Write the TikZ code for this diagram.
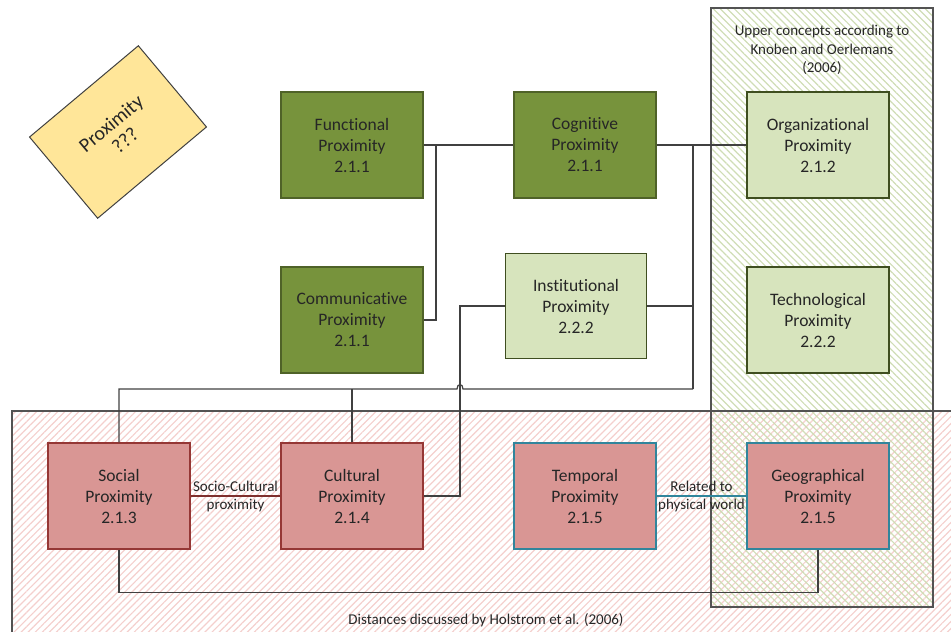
\documentclass[tikz,border=0pt]{standalone}
\usepackage{fontspec}
\setmainfont[Ligatures=NoCommon]{Carlito}
\usetikzlibrary{patterns.meta}

\definecolor{olive}{HTML}{77933C}
\definecolor{olivedark}{HTML}{4F6228}
\definecolor{palegreen}{HTML}{D7E4BD}
\definecolor{rose}{HTML}{D99694}
\definecolor{rosedark}{HTML}{953735}
\definecolor{tealline}{HTML}{31859C}
\definecolor{sand}{HTML}{FFE699}
\definecolor{ink}{HTML}{262626}
\definecolor{wire}{HTML}{404040}
\definecolor{hatchred}{HTML}{F4CFCD}
\definecolor{hatchgreen}{HTML}{CFDDB5}

\tikzset{
  concept/.style={minimum width=142pt, minimum height=106pt, inner sep=0pt,
    align=center, text=ink, line width=1.2pt,
    font=\fontsize{17.5}{21}\selectfont},
  corebox/.style={concept, fill=olive, draw=olivedark},
  upperbox/.style={concept, fill=palegreen, draw=olivedark!80!black},
  distbox/.style={concept, fill=rose, draw=rosedark},
  physbox/.style={concept, fill=rose, draw=tealline},
  wiring/.style={draw=wire, line width=1.2pt},
  regionborder/.style={draw=wire!90, line width=1.2pt},
  linklabel/.style={align=center, text=ink, inner sep=0pt,
    font=\fontsize{15}{18}\selectfont},
  regionlabel/.style={align=center, text=ink, inner sep=0pt,
    font=\fontsize{15}{18.5}\selectfont},
}

\begin{document}
\begin{tikzpicture}[x=1pt, y=-1pt]
  \useasboundingbox (0,0) rectangle (951,632);
  \clip (0,0) rectangle (951,632);

  % hatched regions: fills first, then their borders
  \fill[pattern={Lines[angle=45, distance=5pt, line width=1.2pt]},
        pattern color=hatchred]
    (12,411) rectangle (970,660);
  \fill[pattern={Lines[angle=-45, distance=5pt, line width=1.2pt]},
        pattern color=hatchgreen]
    (711,8) rectangle (933,607);
  \draw[regionborder] (12,411) rectangle (970,660);
  \draw[regionborder] (711,8) rectangle (933,607);

  \node[regionlabel] (uppertitle) at (822,50)
    {Upper concepts according to\\Knoben and Oerlemans\\(2006)};
  \node[regionlabel] (distlabel) at (486,620)
    {Distances discussed by Holstrom et al. (2006)};

  % proximity note
  \node[concept, fill=sand, draw=wire, line width=1pt, rotate=40,
        font=\fontsize{20}{22}\selectfont] (prox) at (118,132)
    {Proximity\\???};

  % junction points
  \coordinate (j1) at (436,145);
  \coordinate (j2) at (693,145);
  \coordinate (j3) at (693,389);
  \coordinate (j4) at (460,496);

  % concept boxes
  \node[corebox] (func) at (352,145) {Functional\\Proximity\\2.1.1};
  \node[corebox] (cog) at (585,145) {Cognitive\\Proximity\\2.1.1};
  \node[upperbox] (org) at (818,145) {Organizational\\Proximity\\2.1.2};
  \node[corebox] (comm) at (352,320) {Communicative\\Proximity\\2.1.1};
  \node[upperbox, minimum width=141pt, minimum height=105pt] (inst) at (576,306)
    {Institutional\\Proximity\\2.2.2};
  \node[upperbox] (tech) at (818,320) {Technological\\Proximity\\2.2.2};
  \node[distbox] (soc) at (119,496) {Social\\Proximity\\2.1.3};
  \node[distbox] (cult) at (352,496) {Cultural\\Proximity\\2.1.4};
  \node[physbox] (temp) at (585,496) {Temporal\\Proximity\\2.1.5};
  \node[physbox] (geo) at (818,496) {Geographical\\Proximity\\2.1.5};

  % connectors
  \draw[wiring] (func.east) -- (cog.west);
  \draw[wiring] (comm.east) -| (j1);
  \draw[wiring] (cog.east) -- (org.west);
  \draw[wiring] (j2) -- (j3);
  \draw[wiring] (inst.east) -- (inst.east -| j3);
  \draw[wiring] (j3) -- (463,389) .. controls (463,383) and (457,383) .. (457,389)
    -- (soc.north |- j3) -- (soc.north);
  \draw[wiring] (cult.north) -- (cult.north |- j3);
  \draw[wiring] (inst.west) -| (j4) -- (cult.east);
  \draw[wiring] (soc.south) -- ++(0,43) -| (geo.south);

  \draw[draw=rosedark!85!black, line width=2pt] (soc.east) -- (cult.west)
    node[linklabel, midway] (sclabel) {Socio-Cultural\\proximity};
  \draw[draw=tealline, line width=2pt] (temp.east) -- (geo.west)
    node[linklabel, midway] (pwlabel) {Related to\\physical world};
\end{tikzpicture}
\end{document}
